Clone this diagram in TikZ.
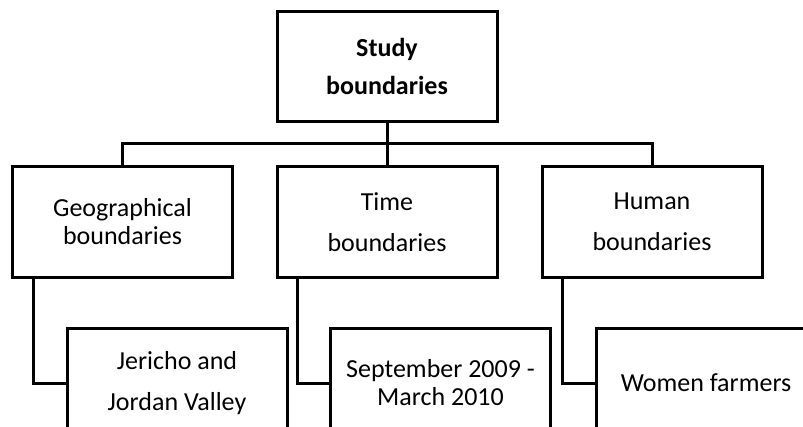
\documentclass[tikz,border=0pt]{standalone}
\usepackage{fontspec}
\setmainfont{Carlito}
\usetikzlibrary{positioning}
\tikzset{
  boxnode/.style={draw,line width=0.075cm,minimum width=5.5cm,minimum height=2.75cm,
    align=center,inner sep=0pt,font=\fontsize{18.5}{29.2}\selectfont},
  tightbox/.style={boxnode,font=\fontsize{18.5}{19.9}\selectfont},
  link/.style={line width=0.075cm},
}
\begin{document}
\begin{tikzpicture}
		  \useasboundingbox (0,0) rectangle (20.075,10.65);
		  %TOP
		  \node[boxnode,font=\fontsize{18.5}{27}\selectfont\bfseries] (study) at (9.675,8.99) {Study\\boundaries};
		  %MIDDLE ROW
		  \node[tightbox] (geo) at (3.0625,5.1) {Geographical\\boundaries};
		  \node[boxnode] (time) at (9.675,5.1) {Time\\boundaries};
		  \node[boxnode] (human) at (16.3,5.1) {Human\\boundaries};
		  %BOTTOM ROW
		  \node[boxnode] (jericho) at (4.425,1.075) {Jericho and\\Jordan Valley};
		  \node[tightbox] (sept) at (11.0125,1.075) {September 2009 -\\March 2010};
		  \node[boxnode] (women) at (17.65,1.075) {Women farmers};
		  %CONNECTORS
		  \coordinate (bar) at (9.675,7.05);
		  \draw[link] (study.south) -- (bar);
		  \draw[link] (geo.north) |- (bar) -| (human.north);
		  \draw[link] (bar) -- (time.north);
		  \foreach \up/\down in {geo/jericho,time/sept,human/women}{
			\draw[link] ([xshift=0.55cm]\up.south west) |- (\down.west);
		  }
\end{tikzpicture}
\end{document}
